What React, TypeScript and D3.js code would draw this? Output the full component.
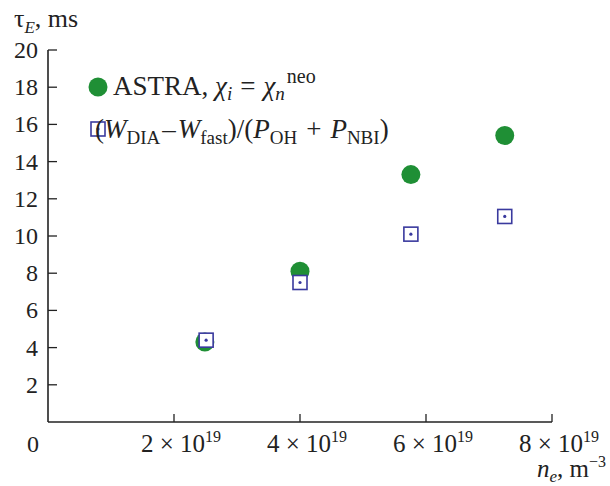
import React from 'react';
import { scaleLinear } from 'd3';

// density, units of 1e19 m^-3
const astraNe = [2.49, 4.0, 5.76, 7.25];
const astraTau = [4.3, 8.1, 13.3, 15.4];
const expNe = [2.51, 4.0, 5.76, 7.25];
const expTau = [4.4, 7.5, 10.1, 11.05];
const yTicks = [2, 4, 6, 8, 10, 12, 14, 16, 18, 20];
const xTicks = [2, 4, 6, 8];

const green = '#1f8f35';
const blue = '#3a3a9e';
const font = "'Liberation Serif', 'Times New Roman', serif";

const App = () => {
    const svgWidth = 610;
    const svgHeight = 486;
    const x = scaleLinear().domain([0, 8]).range([48, 552]);
    const y = scaleLinear().domain([0, 20]).range([422, 50]);

    const square = (cx: number, cy: number, key: string) => (
        <g key={key}>
            <rect x={cx - 7} y={cy - 7} width={14} height={14} fill='white' stroke={blue} strokeWidth={1.6} />
            <circle cx={cx} cy={cy} r={1.6} fill={blue} />
        </g>
    );

    return (
        <svg width={svgWidth} height={svgHeight} style={{ position: 'absolute', left: 0, top: 0, background: 'white', fontFamily: font }} fill='#222'>
            {/* axes */}
            <line x1={x(0)} x2={x(0)} y1={y(0)} y2={y(20)} stroke='#222' strokeWidth={1.6} />
            <line x1={x(0)} x2={x(8)} y1={y(0)} y2={y(0)} stroke='#222' strokeWidth={1.6} />
            {yTicks.map(t => (
                <g key={'y' + t}>
                    <line x1={x(0)} x2={x(0) + 9} y1={y(t)} y2={y(t)} stroke='#222' strokeWidth={1.3} />
                    <text x={38} y={y(t) + 8} fontSize={24} textAnchor='end'>{t}</text>
                </g>
            ))}
            <text x={33} y={452} fontSize={24} textAnchor='middle'>0</text>
            {xTicks.map(t => (
                <g key={'x' + t}>
                    <line x1={x(t)} x2={x(t)} y1={y(0)} y2={y(0) - 8} stroke='#222' strokeWidth={1.3} />
                    <text x={x(t) - 33} y={452} fontSize={25}>
                        {t} × 10<tspan dy={-10} fontSize={16}>19</tspan>
                    </text>
                </g>
            ))}
            {/* axis titles */}
            <text x={14} y={27} fontSize={26}>
                τ<tspan dy={6} fontSize={17} fontStyle='italic'>E</tspan><tspan dy={-6}>, ms</tspan>
            </text>
            <text x={537} y={477} fontSize={25}>
                <tspan fontStyle='italic'>n</tspan><tspan dy={5} fontSize={17} fontStyle='italic'>e</tspan><tspan dy={-5}>, m</tspan><tspan dy={-10} fontSize={16}>−3</tspan>
            </text>

            {/* data */}
            {astraNe.map((n, i) => (
                <circle key={'a' + i} cx={x(n)} cy={y(astraTau[i])} r={9.5} fill={green} />
            ))}
            {expNe.map((n, i) => square(x(n), y(expTau[i]), 'e' + i))}

            {/* legend */}
            <circle cx={98} cy={87} r={9.5} fill={green} />
            <text x={113} y={95} fontSize={27}>
                ASTRA, <tspan fontStyle='italic'>χ</tspan><tspan dy={5} fontSize={19} fontStyle='italic'>i</tspan><tspan dy={-5} dx={8}>=</tspan><tspan dx={8} fontStyle='italic'>χ</tspan><tspan dy={5} fontSize={19} fontStyle='italic'>n</tspan><tspan dy={-17} dx={2} fontSize={20}>neo</tspan>
            </text>
            {square(98, 129, 'leg')}
            <text x={95} y={138} fontSize={27}>
                (<tspan fontStyle='italic'>W</tspan><tspan dy={6} fontSize={19}>DIA</tspan><tspan dy={-6} dx={2}>–</tspan><tspan dx={2} fontStyle='italic'>W</tspan><tspan dy={6} fontSize={19}>fast</tspan><tspan dy={-6}>)/(</tspan><tspan fontStyle='italic'>P</tspan><tspan dy={6} fontSize={19}>OH</tspan><tspan dy={-6} dx={9}>+</tspan><tspan dx={9} fontStyle='italic'>P</tspan><tspan dy={6} fontSize={19}>NBI</tspan><tspan dy={-6}>)</tspan>
            </text>
        </svg>
    );
};

export default App;
